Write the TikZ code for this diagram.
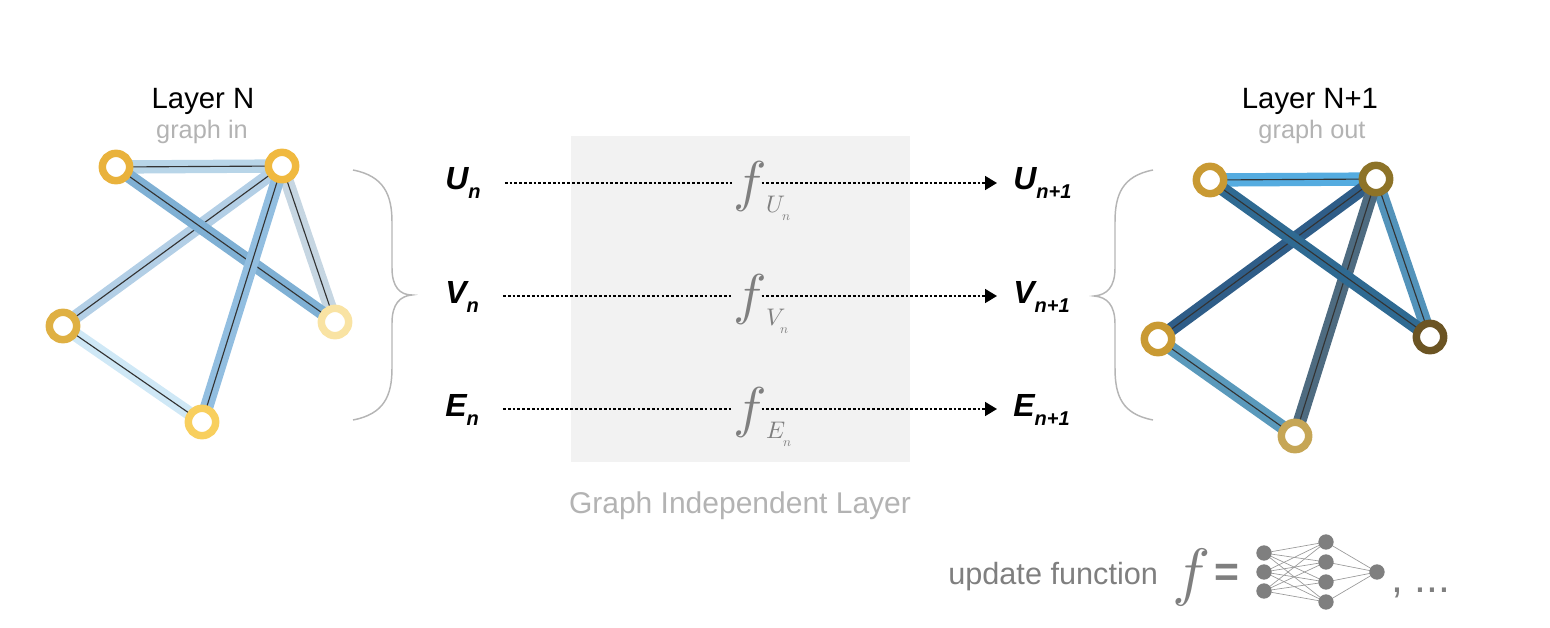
\documentclass[tikz,border=0pt]{standalone}
\usepackage{fontspec}
\setmainfont{Liberation Sans}
\newfontfamily\lmm{Latin Modern Math}
\usetikzlibrary{arrows.meta,backgrounds}
\definecolor{boxgray}{HTML}{F2F2F2}
\definecolor{lightgray}{HTML}{B3B3B3}
\definecolor{fgray}{HTML}{7F7F7F}
\definecolor{bracegray}{HTML}{B5B5B5}
\definecolor{coreline}{HTML}{333333}
% left nodes
\definecolor{lA}{HTML}{E9B23C}\definecolor{lB}{HTML}{F0B93F}\definecolor{lC}{HTML}{F9E3A3}
\definecolor{lD}{HTML}{DFB043}\definecolor{lE}{HTML}{F8CF5E}
% left edges
\definecolor{lAB}{HTML}{B8D5E8}\definecolor{lAC}{HTML}{7FB0D4}\definecolor{lBD}{HTML}{B3CFE6}
\definecolor{lBE}{HTML}{92BEE0}\definecolor{lBC}{HTML}{C6D6E2}\definecolor{lDE}{HTML}{CFE8F6}
% right nodes
\definecolor{rA}{HTML}{C99A33}\definecolor{rB}{HTML}{8D7328}\definecolor{rC}{HTML}{6B5423}
\definecolor{rD}{HTML}{C99A33}\definecolor{rE}{HTML}{C6A656}
% right edges
\definecolor{rAB}{HTML}{55ACE0}\definecolor{rAC}{HTML}{2F6A92}\definecolor{rBD}{HTML}{2F5D88}
\definecolor{rBE}{HTML}{4E6B80}\definecolor{rBC}{HTML}{5393BA}\definecolor{rDE}{HTML}{5A99BB}
\newcommand\gedge[3]{\draw[band,#1] (#2.center) -- (#3.center); \draw[core] (#2.center) -- (#3.center);}
\newcommand\mf{\symbol{"1D453}}
\newcommand\fsubtext[1]{{\fontsize{18}{18}\selectfont\symbol{#1}}\raisebox{-6pt}{\fontsize{10}{10}\selectfont\symbol{"1D45B}}}
\begin{document}
\begin{tikzpicture}[x=0.75pt,y=-0.75pt,
  gnode/.style={circle,draw=#1,line width=5.6pt,fill=white,inner sep=0pt,minimum size=20.5pt},
  band/.style={line width=10pt},
  core/.style={line width=0.85pt,coreline},
  title/.style={font=\fontsize{22}{22}\selectfont,anchor=base,text=black},
  subtitle/.style={font=\fontsize{19}{19}\selectfont,anchor=base,text=lightgray},
  lbl/.style={font=\fontsize{24}{24}\selectfont\bfseries\itshape,anchor=west,inner sep=0pt},
  fnode/.style={font=\lmm\fontsize{42}{42}\selectfont,text=fgray,fill=boxgray,inner sep=0.5pt},
  fsub/.style={font=\lmm,anchor=base west,text=fgray,inner sep=0pt},
  dotline/.style={line width=1.2pt,dash pattern=on 2pt off 1.6pt},
  arrowline/.style={dotline,-{Triangle[length=9pt,width=10.5pt]}},
  brace/.style={draw=bracegray,line width=1.1pt},
  nn/.style={circle,fill=fgray,inner sep=0pt,minimum size=11.5pt},
  nnedge/.style={draw=fgray!80,line width=0.5pt}
]
\useasboundingbox (0,0) rectangle (1550,628);

% gray box
\fill[boxgray] (571,136) rectangle (910,462);

% ---------- left graph ----------
\node[title] (tl) at (203,108) {Layer N};
\node[subtitle] (stl) at (202,138) {graph in};
\node[gnode=lA] (A) at (116,167) {};
\node[gnode=lB] (B) at (282,166) {};
\node[gnode=lC] (C) at (335,322) {};
\node[gnode=lD] (D) at (63,326) {};
\node[gnode=lE] (E) at (202,422) {};
\begin{pgfonlayer}{background}
\gedge{lDE}{D}{E}
\gedge{lBC}{B}{C}
\gedge{lAB}{A}{B}
\gedge{lBD}{B}{D}
\gedge{lAC}{A}{C}
\gedge{lBE}{B}{E}
\end{pgfonlayer}

% left brace
\draw[brace] (353,170) .. controls (384,176) and (392,195) .. (392,222) -- (392,268)
  .. controls (392,287) and (400,295) .. (412,295)
  .. controls (400,296) and (392,304) .. (392,323) -- (392,368)
  .. controls (392,396) and (384,414) .. (353,420);

% ---------- right graph ----------
\node[title] (tr) at (1310,108) {Layer N+1};
\node[subtitle] (str) at (1312,138) {graph out};
\node[gnode=rA] (RA) at (1210,180) {};
\node[gnode=rB] (RB) at (1376,179) {};
\node[gnode=rC] (RC) at (1430,337) {};
\node[gnode=rD] (RD) at (1158,339) {};
\node[gnode=rE] (RE) at (1295,436) {};
\begin{pgfonlayer}{background}
\gedge{rAB}{RA}{RB}
\gedge{rBC}{RB}{RC}
\gedge{rDE}{RD}{RE}
\gedge{rBD}{RB}{RD}
\gedge{rBE}{RB}{RE}
\gedge{rAC}{RA}{RC}
\end{pgfonlayer}

% right brace
\draw[brace] (1153,170) .. controls (1122,176) and (1115,195) .. (1115,222) -- (1115,268)
  .. controls (1115,287) and (1107,295) .. (1094,296)
  .. controls (1107,297) and (1115,305) .. (1115,324) -- (1115,368)
  .. controls (1115,396) and (1122,414) .. (1153,420);

% ---------- middle rows ----------
\node[lbl] (Un) at (445,183) {U\raisebox{-7pt}{\fontsize{15}{15}\selectfont n}};
\node[lbl] (Vn) at (445,297) {V\raisebox{-7pt}{\fontsize{15}{15}\selectfont n}};
\node[lbl] (En) at (445,410) {E\raisebox{-7pt}{\fontsize{15}{15}\selectfont n}};
\node[lbl] (Unn) at (1013,183) {U\raisebox{-7pt}{\fontsize{15}{15}\selectfont n+1}};
\node[lbl] (Vnn) at (1013,297) {V\raisebox{-7pt}{\fontsize{15}{15}\selectfont n+1}};
\node[lbl] (Enn) at (1013,410) {E\raisebox{-7pt}{\fontsize{15}{15}\selectfont n+1}};

\node[fnode] (fU) at (747,186) {\mf};
\node[fnode] (fV) at (747,299) {\mf};
\node[fnode] (fE) at (747,412) {\mf};
\node[fsub] (fUs) at (766,212) {\fsubtext{"1D448}};
\node[fsub] (fVs) at (766,325) {\fsubtext{"1D449}};
\node[fsub] (fEs) at (766,438) {\fsubtext{"1D438}};

\draw[dotline] ([xshift=18pt]Un.east |- 0,183) -- (fU.west |- 0,183);
\draw[arrowline] (fU.east |- 0,183) -- ([xshift=-12pt]Unn.west |- 0,183);
\draw[dotline] ([xshift=18pt]Vn.east |- 0,296) -- (fV.west |- 0,296);
\draw[arrowline] (fV.east |- 0,296) -- ([xshift=-12pt]Vnn.west |- 0,296);
\draw[dotline] ([xshift=18pt]En.east |- 0,409) -- (fE.west |- 0,409);
\draw[arrowline] (fE.east |- 0,409) -- ([xshift=-12pt]Enn.west |- 0,409);

\node[font=\fontsize{22.5}{22.5}\selectfont,text=lightgray,anchor=base] (gil) at (740,513) {Graph Independent Layer};

% ---------- update function ----------
\node[font=\fontsize{23}{23}\selectfont,text=fgray,anchor=base west,inner sep=0pt] (uf) at (948,584) {update function};
\node[font=\lmm\fontsize{48}{48}\selectfont,text=fgray,inner sep=0pt] (fB) at (1188,577) {\mf};
\node[font=\fontsize{32}{32}\selectfont\bfseries,text=fgray,inner sep=0pt] (eq) at (1227,575) {=};
\node[nn] (i1) at (1264,553) {};
\node[nn] (i2) at (1264,572) {};
\node[nn] (i3) at (1264,591) {};
\node[nn] (h1) at (1326,542) {};
\node[nn] (h2) at (1326,562) {};
\node[nn] (h3) at (1326,582) {};
\node[nn] (h4) at (1326,602) {};
\node[nn] (o) at (1377,572) {};
\begin{pgfonlayer}{background}
\foreach \i in {i1,i2,i3}{\foreach \h in {h1,h2,h3,h4}{\draw[nnedge] (\i.center) -- (\h.center);}}
\foreach \h in {h1,h2,h3,h4}{\draw[nnedge] (\h.center) -- (o.center);}
\end{pgfonlayer}
\node[font=\fontsize{32}{32}\selectfont,text=fgray,anchor=base west,inner sep=0pt] (dots) at (1391,592) {, ...};
\end{tikzpicture}
\end{document}
